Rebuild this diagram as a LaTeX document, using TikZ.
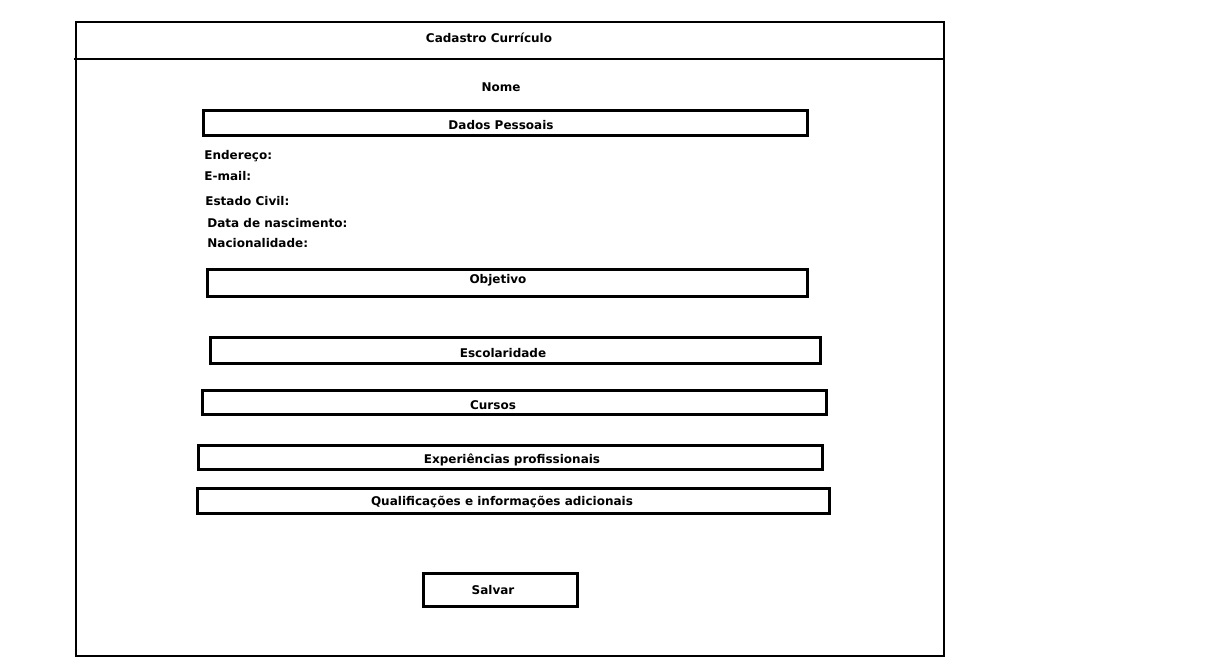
\documentclass[tikz,border=0pt]{standalone}
\usepackage{fontspec}
\setmainfont{DejaVu Sans}
\usepackage{tikz}
\usetikzlibrary{positioning}

\begin{document}
\begin{tikzpicture}[x=1pt, y=-1pt, line width=2.8pt,
    every node/.style={font=\fontsize{12}{14}\selectfont\bfseries, inner sep=0pt},
    fieldbox/.style={draw, rectangle, anchor=north west},
    fieldlabel/.style={anchor=west}]

% Page size
\useasboundingbox (0,0) rectangle (1230,667);

% Window frame and title bar
\draw (76,22) rectangle (944,656);
\draw (74,59) -- (944,59);
\node (title) at (489,38) {Cadastro Currículo};
\node (nome) at (501,87) {Nome};

% Dados pessoais
\node[fieldbox, minimum width=604, minimum height=25] (dados) at (202,109) {};
\node (dadostxt) at (501,125) {Dados Pessoais};
\node[fieldlabel] (endereco) at (203,156) {Endereço:};
\node[fieldlabel] (email) at (203,176) {E-mail:};
\node[fieldlabel] (civil) at (204,201) {Estado Civil:};
\node[fieldlabel] (nasc) at (206,223) {Data de nascimento:};
\node[fieldlabel] (nacio) at (206,243) {Nacionalidade:};

% Other sections
\node[fieldbox, minimum width=600, minimum height=27] (obj) at (206,268) {};
\node (objtxt) at (498,280) {Objetivo};
\node[fieldbox, minimum width=610, minimum height=26] (esc) at (209,336) {};
\node (esctxt) at (503,353) {Escolaridade};
\node[fieldbox, minimum width=624, minimum height=24] (cursos) at (201,389) {};
\node (cursostxt) at (493,405) {Cursos};
\node[fieldbox, minimum width=624, minimum height=24] (exp) at (197,444) {};
\node (exptxt) at (512,460) {Experiências profissionais};
\node[fieldbox, minimum width=632, minimum height=25] (qual) at (196,487) {};
\node (qualtxt) at (502,502) {Qualificações e informações adicionais};

% Button
\node[fieldbox, minimum width=154, minimum height=33] (salvar) at (422,572) {};
\node (salvartxt) at (493,590) {Salvar};

\end{tikzpicture}
\end{document}
